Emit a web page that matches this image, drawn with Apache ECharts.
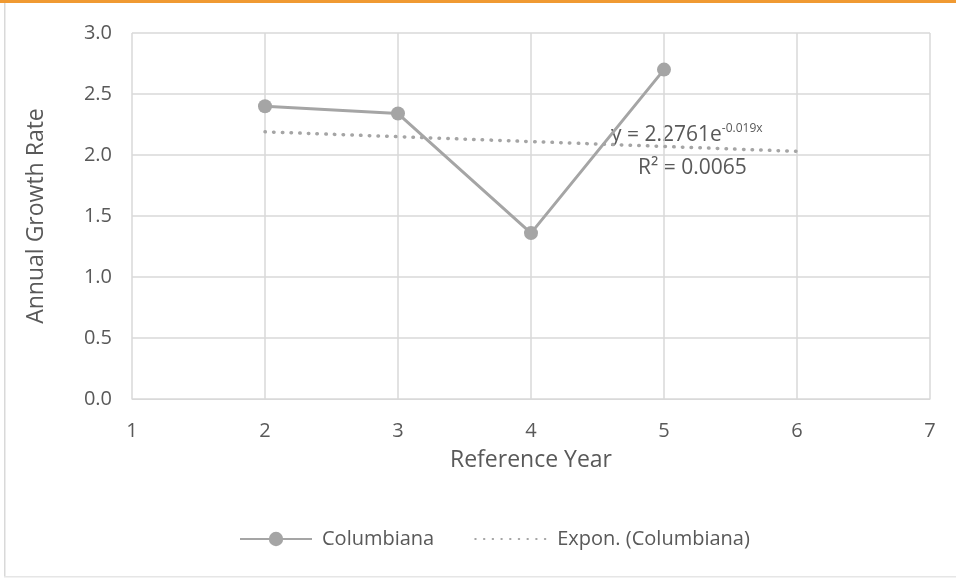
<!DOCTYPE html>
<html><head><meta charset="utf-8">
<style>html,body{margin:0;padding:0;background:#fff;}#c{width:956px;height:578px;}</style>
<script src="https://cdn.jsdelivr.net/npm/echarts@6/dist/echarts.min.js"></script>
</head><body><div id="c"></div>
<script>
var years = [2, 3, 4, 5];
var growth = [2.40, 2.34, 1.36, 2.70];
var trendYears = [2, 3, 4, 5, 6];
var trendValues = [2.19, 2.15, 2.11, 2.07, 2.03];
var xTicks = [1, 2, 3, 4, 5, 6, 7];
var yTicks = [0, 0.5, 1.0, 1.5, 2.0, 2.5, 3.0];

var chart = echarts.init(document.getElementById('c'));
var font = '"Open Sans", "Noto Sans", sans-serif';
var txt = '#595959';
chart.setOption({
  animation: false,
  textStyle: {fontFamily: font},
  grid: {left: 132, right: 26, top: 33, bottom: 179},
  xAxis: {
    type: 'value', min: xTicks[0], max: xTicks[xTicks.length - 1], interval: 1,
    name: 'Reference Year', nameLocation: 'middle', nameGap: 50,
    nameTextStyle: {fontSize: 23, color: txt, fontFamily: font},
    axisLine: {show: true, lineStyle: {color: '#d9d9d9'}},
    axisTick: {show: false},
    axisLabel: {fontSize: 20, color: txt, margin: 22, fontFamily: font},
    splitLine: {show: true, lineStyle: {color: '#d9d9d9', width: 1.5}}
  },
  yAxis: {
    type: 'value', min: yTicks[0], max: yTicks[yTicks.length - 1], interval: 0.5,
    name: 'Annual Growth Rate', nameLocation: 'middle', nameGap: 84,
    nameTextStyle: {fontSize: 23, color: txt, fontFamily: font},
    axisLine: {show: false}, axisTick: {show: false},
    axisLabel: {fontSize: 20, color: txt, margin: 20, fontFamily: font,
      formatter: function (v) { return v.toFixed(1); }},
    splitLine: {show: true, lineStyle: {color: '#d9d9d9', width: 1.5}}
  },
  legend: {
    bottom: 24, left: 234, itemGap: 40, itemWidth: 72, itemHeight: 18,
    textStyle: {fontSize: 20, color: txt, fontFamily: font, padding: [0, 0, 0, 5]},
    data: [
      {name: 'Columbiana'},
      {name: 'Expon. (Columbiana)', itemStyle: {opacity: 0}}
    ]
  },
  series: [
    {
      name: 'Expon. (Columbiana)', type: 'line', smooth: true,
      data: trendYears.map(function (x, i) { return [x, trendValues[i]]; }),
      showSymbol: false, symbol: 'none',
      lineStyle: {color: '#a5a5a5', width: 3.5, type: [0.5, 8.2], cap: 'round'},
      itemStyle: {color: '#a5a5a5'},
      z: 2
    },
    {
      name: 'Columbiana', type: 'line',
      data: years.map(function (x, i) { return [x, growth[i]]; }),
      symbol: 'circle', symbolSize: 14,
      lineStyle: {color: '#a5a5a5', width: 3},
      itemStyle: {color: '#a5a5a5'},
      z: 3
    }
  ],
  graphic: [
    {type: 'rect', left: 0, top: 0, shape: {width: 956, height: 3}, style: {fill: '#f09a32'}},
    {type: 'rect', left: 4, top: 3, shape: {width: 1.5, height: 574}, style: {fill: '#d9d9d9'}},
    {type: 'rect', left: 4, top: 576, shape: {width: 952, height: 1.5}, style: {fill: '#e6e6e6'}},
    {type: 'text', left: 611, top: 123, style: {
      text: '{a|y = 2.2761e}{b|-0.019x}', fontFamily: font,
      rich: {a: {fontSize: 21, fill: txt, fontFamily: font},
             b: {fontSize: 12, fill: txt, fontFamily: font, verticalAlign: 'top', padding: [0, 0, 12, 0]}}
    }},
    {type: 'text', left: 638, top: 158, style: {
      text: 'R² = 0.0065', fontSize: 21, fill: txt, fontFamily: font
    }}
  ]
});
</script></body></html>
